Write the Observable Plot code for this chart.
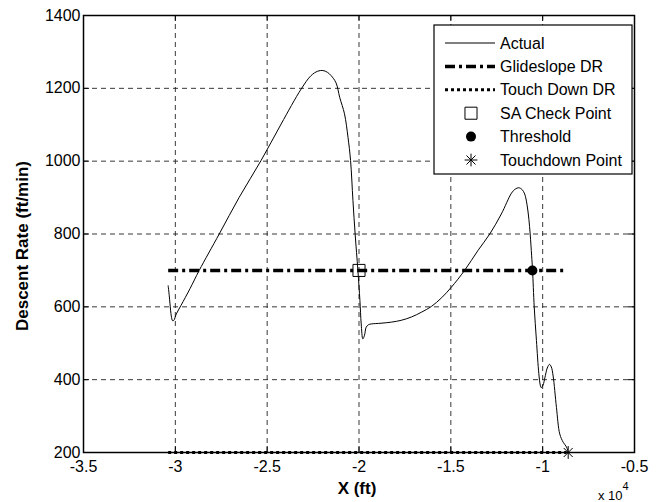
<!DOCTYPE html>
<html><head><meta charset="utf-8">
<script src="https://cdn.jsdelivr.net/npm/d3@7"></script>
<script src="https://cdn.jsdelivr.net/npm/@observablehq/plot@0.6"></script>
<style>
body{margin:0;background:#fff;}
#chart{width:660px;height:502px;}
svg{font-family:"Liberation Sans",Arial,Helvetica,sans-serif;}
</style></head><body><div id="chart"></div>
<script>
// X in units of 10^4 ft, Y descent rate ft/min
const actualX = [-3.039,-3.033,-3.029,-3.022,-3.015,-3.008,-2.995,-2.969,-2.920,-2.870,-2.761,-2.652,-2.533,-2.424,-2.315,-2.261,-2.225,-2.197,-2.172,-2.152,-2.125,-2.105,-2.079,-2.060,-2.046,-2.033,-2.021,-2.006,-1.995,-1.988,-1.979,-1.970,-1.961,-1.948,-1.933,-1.880,-1.824,-1.770,-1.715,-1.661,-1.606,-1.550,-1.497,-1.425,-1.352,-1.288,-1.225,-1.170,-1.150,-1.130,-1.112,-1.098,-1.085,-1.075,-1.068,-1.060,-1.055,-1.046,-1.034,-1.021,-1.013,-1.008,-0.998,-0.988,-0.975,-0.963,-0.953,-0.943,-0.925,-0.907,-0.888,-0.870,-0.861];
const actualY = [658,630,608,575,562,563,580,604,650,700,800,901,1002,1102,1198,1235,1247,1249,1244,1235,1215,1175,1130,1066,1002,892,800,700,617,553,512,522,544,551,553,555,558,563,572,585,601,625,654,700,755,800,855,912,923,927,922,910,880,840,800,740,700,600,508,417,385,378,385,405,432,442,435,410,324,251,228,215,200];
const glideX = [-3.039,-0.870];
const glideY = [700,700];
const touchDRX = [-3.039,-0.870];
const touchDRY = [200,200];
const saCheckX = [-2.0], saCheckY = [700];
const thresholdX = [-1.056], thresholdY = [700];
const touchdownX = [-0.861], touchdownY = [200];
const xTicks = [-3.5,-3,-2.5,-2,-1.5,-1,-0.5];
const yTicks = [200,400,600,800,1000,1200,1400];
const xGrid = [-3,-2.5,-2,-1.5,-1];
const yGrid = [400,600,800,1000,1200];
const legendLabels = ["Actual","Glideslope DR","Touch Down DR","SA Check Point","Threshold","Touchdown Point"];

const W = 660, H = 502, mL = 83, mR = 26, mT = 15, mB = 50;
const fw = W - mL - mR, fh = H - mT - mB, tk = 6;

const actual = actualX.map((x,i)=>({x, y: actualY[i]}));
const glide = glideX.map((x,i)=>({x, y: glideY[i]}));
const touchDR = touchDRX.map((x,i)=>({x, y: touchDRY[i]}));
const gridStyle = {stroke:"#222", strokeOpacity:1, strokeWidth:0.9, strokeDasharray:"5,4"};

const plot = Plot.plot({
  width: W, height: H, marginLeft: mL, marginRight: mR, marginTop: mT, marginBottom: mB,
  x: {domain: [-3.5,-0.5]},
  y: {domain: [200,1400]},
  style: {fontFamily: '"Liberation Sans",Arial,Helvetica,sans-serif', fontSize: "16px", color: "#000", background: "#fff"},
  marks: [
    Plot.ruleX(xGrid, {x: d=>d, ...gridStyle}),
    Plot.ruleY(yGrid, {y: d=>d, ...gridStyle}),
    Plot.ruleX(xTicks, {x: d=>d, insetTop: fh - tk, stroke: "#000"}),
    Plot.ruleX(xTicks, {x: d=>d, insetBottom: fh - tk, stroke: "#000"}),
    Plot.ruleY(yTicks, {y: d=>d, insetRight: fw - tk, stroke: "#000"}),
    Plot.ruleY(yTicks, {y: d=>d, insetLeft: fw - tk, stroke: "#000"}),
    Plot.line(touchDR, {x:"x", y:"y", stroke:"#000", strokeWidth:3, strokeDasharray:"3,3", strokeLinecap:"butt"}),
    Plot.line(glide, {x:"x", y:"y", stroke:"#000", strokeWidth:3.5, strokeDasharray:"10,4,3,4", strokeLinecap:"butt"}),
    Plot.line(actual, {x:"x", y:"y", stroke:"#000", strokeWidth:1, curve:"catmull-rom"}),
    Plot.frame({stroke:"#000", strokeWidth:1.5}),
    Plot.dot(saCheckX, {x: d=>d, y: (d,i)=>saCheckY[i], symbol:"square", r:6.8, stroke:"#000", fill:"none", strokeWidth:1}),
    Plot.dot(thresholdX, {x: d=>d, y: (d,i)=>thresholdY[i], symbol:"circle", r:5, fill:"#000", stroke:"none"}),
    Plot.dot(touchdownX, {x: d=>d, y: (d,i)=>touchdownY[i], symbol:"plus", r:4.2, stroke:"#000", strokeWidth:1}),
    Plot.dot(touchdownX, {x: d=>d, y: (d,i)=>touchdownY[i], symbol:"times", r:4.2, stroke:"#000", strokeWidth:1}),
    Plot.axisX(xTicks, {tickSize:0, tickPadding:8, fontSize:16, label:null, tickFormat: d=>String(d)}),
    Plot.axisY(yTicks, {tickSize:0, tickPadding:3, fontSize:16, label:null, tickFormat: d=>String(d)})
  ]
});
document.getElementById("chart").appendChild(plot);

const svg = d3.select(plot);
// axis labels
svg.append("text").attr("x", 357).attr("y", 494).attr("text-anchor","middle")
  .attr("font-size", 17).attr("font-weight","bold").attr("fill","#000").text("X (ft)");
svg.append("text").attr("transform","translate(28,246) rotate(-90)").attr("text-anchor","middle")
  .attr("font-size", 17).attr("font-weight","bold").attr("fill","#000").text("Descent Rate (ft/min)");
const mult = svg.append("text").attr("x", 598).attr("y", 500).attr("text-anchor","start").attr("font-size", 13).attr("fill","#000");
mult.append("tspan").text("x 10");
mult.append("tspan").attr("dy", -10).attr("font-size", 11).text("4");

// legend
const lg = svg.append("g");
lg.append("rect").attr("x", 434).attr("y", 25).attr("width", 198).attr("height", 149)
  .attr("fill","#fff").attr("stroke","#000").attr("stroke-width",1.2);
legendLabels.forEach((lab, i) => {
  const y = 43 + i * 23.4;
  lg.append("text").attr("x", 500).attr("y", y).attr("dy","0.35em").attr("text-anchor","start").attr("font-size",16).attr("fill","#000").text(lab);
  if (i === 0) lg.append("line").attr("x1",445).attr("x2",495).attr("y1",y).attr("y2",y).attr("stroke","#000").attr("stroke-width",1);
  if (i === 1) lg.append("line").attr("x1",445).attr("x2",495).attr("y1",y).attr("y2",y).attr("stroke","#000").attr("stroke-width",3.5).attr("stroke-dasharray","10,4,3,4");
  if (i === 2) lg.append("line").attr("x1",445).attr("x2",495).attr("y1",y).attr("y2",y).attr("stroke","#000").attr("stroke-width",3).attr("stroke-dasharray","3,3");
  if (i === 3) lg.append("path").attr("transform",`translate(471,${y})`).attr("d", d3.symbol(d3.symbolSquare, 145)()).attr("fill","none").attr("stroke","#000");
  if (i === 4) lg.append("circle").attr("cx",471).attr("cy",y).attr("r",5).attr("fill","#000");
  if (i === 5) {
    lg.append("path").attr("transform",`translate(471,${y})`).attr("d", d3.symbol(d3.symbolPlus, 55)()).attr("fill","none").attr("stroke","#000");
    lg.append("path").attr("transform",`translate(471,${y})`).attr("d", d3.symbol(d3.symbolTimes, 55)()).attr("fill","none").attr("stroke","#000");
  }
});
</script></body></html>
